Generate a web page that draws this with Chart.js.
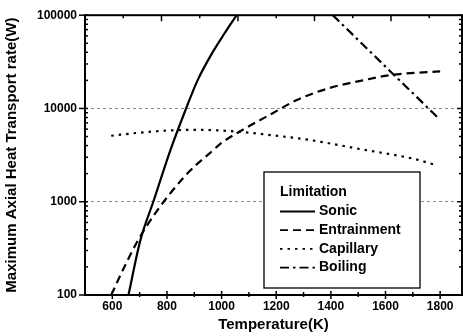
<!DOCTYPE html>
<html>
<head>
<meta charset="utf-8">
<script src="https://cdn.jsdelivr.net/npm/chart.js@4/dist/chart.umd.min.js"></script>
<style>
  html, body { margin: 0; padding: 0; background: #fff; }
</style>
</head>
<body>
<canvas id="heatChart" width="463" height="336"></canvas>
<script>
// Temperature (K) and heat transport limit (W) for each limitation
const sonicT = [659, 703, 750, 813, 864, 912, 967, 1011, 1055];
const sonicQ = [100, 390, 1000, 3600, 9000, 20000, 40000, 64000, 100000];

const entrainT = [596, 644, 695, 761, 816, 864, 908, 956, 1000, 1059, 1187, 1275, 1396, 1517, 1617, 1752, 1800];
const entrainQ = [100, 200, 390, 780, 1270, 1860, 2500, 3300, 4270, 5500, 8900, 12300, 16600, 20000, 22800, 24500, 25000];

const capT = [596, 700, 800, 900, 1000, 1100, 1200, 1300, 1400, 1500, 1600, 1700, 1790];
const capQ = [5100, 5500, 5800, 5900, 5800, 5500, 5100, 4700, 4200, 3700, 3300, 2900, 2450];

const boilT = [1407, 1517, 1617, 1727, 1793];
const boilQ = [100000, 48500, 25100, 12200, 7900];

const xTicks = [500, 600, 700, 800, 900, 1000, 1100, 1200, 1300, 1400, 1500, 1600, 1700, 1800];
const xLabels = [600, 800, 1000, 1200, 1400, 1600, 1800];
const yLabels = [100, 1000, 10000, 100000];

const FONT = "'Liberation Sans', Arial, sans-serif";
Chart.defaults.font.family = FONT;

const pts = (xs, ys) => xs.map((t, i) => ({ x: t, y: ys[i] }));

function isDecade(v) {
  const l = Math.log10(v);
  return Math.abs(l - Math.round(l)) < 1e-9;
}

// frame, inward/outward tick marks and the boxed legend
const framePlugin = {
  id: 'frame',
  afterDatasetsDraw(chart) {
    const { ctx, chartArea: a, scales: { x, y } } = chart;
    const line = (x1, y1, x2, y2) => { ctx.beginPath(); ctx.moveTo(x1, y1); ctx.lineTo(x2, y2); ctx.stroke(); };
    ctx.save();

    // legend box
    const bx = 264, by = 172, bw = 156, bh = 116;
    ctx.fillStyle = '#fff';
    ctx.fillRect(bx, by, bw, bh);
    ctx.strokeStyle = '#000';
    ctx.lineWidth = 1.3;
    ctx.strokeRect(bx, by, bw, bh);
    ctx.fillStyle = '#000';
    ctx.textBaseline = 'middle';
    ctx.font = 'bold 14px ' + FONT;
    ctx.fillText('Limitation', 280, 192);
    chart.data.datasets.forEach((ds, i) => {
      const ry = 211.5 + i * 18.7;
      ctx.setLineDash(ds.borderDash || []);
      ctx.lineWidth = 1.8;
      line(280, ry, 315, ry);
      ctx.setLineDash([]);
      ctx.fillText(ds.label, 319, ry);
    });

    // frame
    ctx.lineWidth = 2;
    ctx.strokeRect(a.left, a.top, a.right - a.left, a.bottom - a.top);

    // x ticks (bottom)
    ctx.lineWidth = 1.5;
    xTicks.forEach(t => {
      const px = x.getPixelForValue(t);
      if (px < a.left + 1 || px > a.right - 1) return;
      const big = xLabels.includes(t);
      line(px, a.bottom - (big ? 4 : 3), px, a.bottom + (big ? 4 : 2));
    });
    // top axis ticks
    for (let k = 0, t = 640; t < 1880; k++, t += 140) {
      const px = x.getPixelForValue(t);
      line(px, a.top, px, a.top + (k % 2 ? 6 : 3));
    }
    // y ticks, left and right
    for (let e = 2; e <= 5; e++) {
      for (let m = 1; m <= 9; m++) {
        const v = m * Math.pow(10, e);
        if (v > 100000) break;
        const py = y.getPixelForValue(v);
        if (m === 1) {
          line(a.left - 6, py, a.left + 3, py);
          line(a.right - 5, py, a.right, py);
        } else {
          line(a.left, py, a.left + 3, py);
          line(a.right - 3, py, a.right, py);
        }
      }
    }
    ctx.restore();
  }
};

new Chart(document.getElementById('heatChart'), {
  type: 'line',
  data: {
    datasets: [
      { label: 'Sonic', data: pts(sonicT, sonicQ), borderColor: '#000', borderWidth: 2.2, borderDash: [] },
      { label: 'Entrainment', data: pts(entrainT, entrainQ), borderColor: '#000', borderWidth: 2.2, borderDash: [8, 5] },
      { label: 'Capillary', data: pts(capT, capQ), borderColor: '#000', borderWidth: 2.2, borderDash: [2.5, 5] },
      { label: 'Boiling', data: pts(boilT, boilQ), borderColor: '#000', borderWidth: 2.2, borderDash: [9, 4, 2.5, 4] }
    ]
  },
  options: {
    responsive: false,
    animation: false,
    layout: { padding: { top: 15, right: 1, left: 0, bottom: 0 } },
    plugins: { legend: { display: false }, tooltip: { enabled: false } },
    elements: {
      point: { radius: 0 },
      line: { cubicInterpolationMode: 'monotone', fill: false }
    },
    scales: {
      x: {
        type: 'linear',
        min: 500,
        max: 1880,
        afterFit: s => { s.height = 41; },
        afterBuildTicks: s => { s.ticks = xTicks.map(v => ({ value: v })); },
        grid: { display: false, drawTicks: false },
        border: { display: false },
        ticks: {
          autoSkip: false,
          maxRotation: 0,
          padding: 4,
          color: '#000',
          font: { size: 12, weight: 'bold' },
          callback: v => xLabels.includes(v) ? String(v) : ''
        },
        title: {
          display: true,
          text: 'Temperature(K)',
          color: '#000',
          font: { size: 15, weight: 'bold' },
          padding: { top: 0, bottom: 2 }
        }
      },
      y: {
        type: 'logarithmic',
        min: 100,
        max: 100000,
        afterFit: s => { s.width = 85; },
        grid: {
          drawTicks: false,
          lineWidth: 1,
          color: c => (c.tick && isDecade(c.tick.value) && c.tick.value > 100 && c.tick.value < 100000) ? '#8a8a8a' : 'rgba(0,0,0,0)'
        },
        border: { display: false, dash: [3, 3] },
        ticks: {
          autoSkip: false,
          padding: 8,
          color: '#000',
          font: { size: 12, weight: 'bold' },
          callback: v => yLabels.includes(v) ? String(v) : ''
        },
        title: {
          display: true,
          text: 'Maximum Axial Heat Transport rate(W)',
          color: '#000',
          font: { size: 15, weight: 'bold' },
          padding: { top: 3, bottom: 0 }
        }
      }
    }
  },
  plugins: [framePlugin]
});
</script>
</body>
</html>
